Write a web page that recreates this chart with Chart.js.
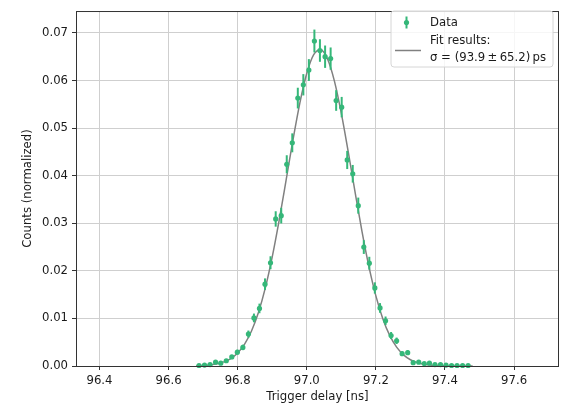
<!DOCTYPE html>
<html>
<head>
<meta charset="utf-8">
<script src="https://cdn.jsdelivr.net/npm/chart.js@4.4.0/dist/chart.umd.min.js"></script>
<style>
  html, body { margin: 0; padding: 0; background: #fff; }
</style>
</head>
<body>
<canvas id="myChart" width="563" height="405"></canvas>
<script>
// binned data (trigger delay in ns, normalized counts, stat. error)
const delay = [
  96.688, 96.704, 96.720, 96.736, 96.751, 96.767, 96.783, 96.799, 96.815, 96.831,
  96.847, 96.863, 96.879, 96.895, 96.910, 96.926, 96.942, 96.958, 96.974, 96.990,
  97.006, 97.022, 97.038, 97.053, 97.069, 97.085, 97.101, 97.117, 97.133, 97.149,
  97.165, 97.181, 97.197, 97.212, 97.228, 97.244, 97.260, 97.276, 97.292, 97.308,
  97.324, 97.340, 97.355, 97.371, 97.387, 97.403, 97.419, 97.435, 97.451, 97.467
];
const counts = [
  0.0001, 0.0002, 0.0003, 0.0008, 0.0006, 0.0011, 0.0019, 0.0029, 0.0039, 0.0067,
  0.0101, 0.0121, 0.0172, 0.0217, 0.0309, 0.0316, 0.0424, 0.0469, 0.0563, 0.0591,
  0.0622, 0.0683, 0.0663, 0.0650, 0.0646, 0.0558, 0.0544, 0.0433, 0.0404, 0.0337,
  0.0250, 0.0216, 0.0164, 0.0122, 0.0095, 0.0064, 0.0053, 0.0026, 0.0028, 0.0007,
  0.0008, 0.0005, 0.0006, 0.0003, 0.0003, 0.0002, 0.0001, 0.0001, 0.0001, 0.0001
];
const countErr = [
  0.00009, 0.00013, 0.00016, 0.00026, 0.00023, 0.00031, 0.00040, 0.00050, 0.00057, 0.00075,
  0.00092, 0.00101, 0.00121, 0.00136, 0.00162, 0.00164, 0.00189, 0.00199, 0.00218, 0.00224,
  0.00229, 0.00240, 0.00237, 0.00235, 0.00234, 0.00217, 0.00215, 0.00191, 0.00185, 0.00169,
  0.00145, 0.00135, 0.00118, 0.00102, 0.00090, 0.00074, 0.00067, 0.00047, 0.00049, 0.00024,
  0.00026, 0.00021, 0.00023, 0.00016, 0.00016, 0.00013, 0.00009, 0.00009, 0.00009, 0.00009
];

// fitted gaussian
const fitX = [
  96.68, 96.70, 96.72, 96.74, 96.76, 96.78, 96.80, 96.82, 96.84, 96.86,
  96.88, 96.90, 96.92, 96.94, 96.96, 96.98, 97.00, 97.02, 97.04, 97.06,
  97.08, 97.10, 97.12, 97.14, 97.16, 97.18, 97.20, 97.22, 97.24, 97.26,
  97.28, 97.30, 97.32, 97.34, 97.36, 97.38, 97.40, 97.42, 97.44, 97.46, 97.48
];
const fitY = [
  0.00005, 0.00011, 0.00022, 0.00045, 0.00086, 0.00157, 0.00275, 0.00461, 0.00736, 0.01125,
  0.01643, 0.02294, 0.03060, 0.03900, 0.04751, 0.05531, 0.06153, 0.06542, 0.06647, 0.06453,
  0.05988, 0.05309, 0.04499, 0.03644, 0.02820, 0.02085, 0.01474, 0.00995, 0.00643, 0.00396,
  0.00234, 0.00131, 0.00071, 0.00036, 0.00018, 0.00008, 0.00004, 0.00002, 0.00001, 0.00000, 0.00000
];

const xTicks = [96.4, 96.6, 96.8, 97.0, 97.2, 97.4, 97.6];
const xTickLabels = ["96.4", "96.6", "96.8", "97.0", "97.2", "97.4", "97.6"];
const yTicks = [0, 0.01, 0.02, 0.03, 0.04, 0.05, 0.06, 0.07];
const yTickLabels = ["0.00", "0.01", "0.02", "0.03", "0.04", "0.05", "0.06", "0.07"];
const legendLabels = ["Data", "Fit results:", "\u03c3 = (93.9\u2009\u00b1\u200965.2)\u2009ps"];

const green = "#35b779";
const grey = "#808080";
const textColor = "#1a1a1a";
const family = "DejaVu Sans";
const fontSize = 11.7;

// vertical error bars, drawn between the fit line and the markers
const errorBars = {
  id: "errorBars",
  beforeDatasetDraw(chart, args) {
    if (args.index !== 0) return;
    const x = chart.scales.x, y = chart.scales.y, ctx = chart.ctx;
    ctx.save();
    ctx.strokeStyle = green;
    ctx.lineWidth = 2;
    delay.forEach((d, i) => {
      const px = x.getPixelForValue(d);
      ctx.beginPath();
      ctx.moveTo(px, y.getPixelForValue(counts[i] - countErr[i]));
      ctx.lineTo(px, y.getPixelForValue(counts[i] + countErr[i]));
      ctx.stroke();
    });
    ctx.restore();
  }
};

// axes frame (all four spines)
const frame = {
  id: "frame",
  afterDatasetsDraw(chart) {
    const a = chart.chartArea, ctx = chart.ctx;
    ctx.save();
    ctx.strokeStyle = "#333";
    ctx.lineWidth = 1;
    ctx.strokeRect(a.left + 0.5, a.top + 0.5, a.right - a.left - 1, a.bottom - a.top);
    ctx.restore();
  }
};

// matplotlib style legend box in the upper right
const legendBox = {
  id: "legendBox",
  afterDraw(chart) {
    const ctx = chart.ctx;
    const bx = 391, by = 11, bw = 162, bh = 56, r = 3;
    ctx.save();
    ctx.beginPath();
    ctx.moveTo(bx + r, by);
    ctx.arcTo(bx + bw, by, bx + bw, by + bh, r);
    ctx.arcTo(bx + bw, by + bh, bx, by + bh, r);
    ctx.arcTo(bx, by + bh, bx, by, r);
    ctx.arcTo(bx, by, bx + bw, by, r);
    ctx.closePath();
    ctx.fillStyle = "rgba(255,255,255,0.8)";
    ctx.fill();
    ctx.strokeStyle = "#d6d6d6";
    ctx.lineWidth = 1;
    ctx.stroke();

    // data handle
    ctx.strokeStyle = green;
    ctx.lineWidth = 2;
    ctx.beginPath();
    ctx.moveTo(406.5, 16.5);
    ctx.lineTo(406.5, 28.5);
    ctx.stroke();
    ctx.fillStyle = green;
    ctx.beginPath();
    ctx.arc(406.5, 22.5, 2.6, 0, Math.PI * 2);
    ctx.fill();

    // fit handle
    ctx.strokeStyle = grey;
    ctx.lineWidth = 1.5;
    ctx.beginPath();
    ctx.moveTo(395, 50.5);
    ctx.lineTo(421, 50.5);
    ctx.stroke();

    ctx.fillStyle = textColor;
    ctx.font = fontSize + "px '" + family + "'";
    ctx.textAlign = "left";
    ctx.textBaseline = "middle";
    ctx.fillText(legendLabels[0], 430, 22.5);
    ctx.fillText(legendLabels[1], 430, 41);
    ctx.fillText(legendLabels[2], 430, 57.5);
    ctx.restore();
  }
};

const ctx = document.getElementById("myChart").getContext("2d");
const chart = new Chart(ctx, {
  type: "scatter",
  data: {
    datasets: [
      {
        label: "Data",
        data: delay.map((d, i) => ({ x: d, y: counts[i] })),
        backgroundColor: green,
        borderColor: green,
        pointRadius: 2.6,
        pointBorderWidth: 0,
        clip: false,
        order: 1
      },
      {
        label: "Fit",
        data: fitX.map((d, i) => ({ x: d, y: fitY[i] })),
        showLine: true,
        borderColor: grey,
        borderWidth: 1.5,
        pointRadius: 0,
        cubicInterpolationMode: "monotone",
        order: 2
      }
    ]
  },
  options: {
    responsive: false,
    devicePixelRatio: 1,
    animation: false,
    layout: { padding: { top: 6, right: 3, left: 0, bottom: 0 } },
    plugins: {
      legend: { display: false },
      tooltip: { enabled: false }
    },
    scales: {
      x: {
        type: "linear",
        min: 96.332,
        max: 97.73,
        afterBuildTicks: (s) => { s.ticks = xTicks.map((v) => ({ value: v })); },
        afterFit: (s) => { s.height = 39; },
        border: { display: false },
        grid: { color: "#cfcfcf", lineWidth: 1, tickColor: "#333", tickLength: 4 },
        ticks: {
          padding: 4,
          maxRotation: 0,
          autoSkip: false,
          color: textColor,
          font: { family: family, size: fontSize },
          callback: (v, i) => xTickLabels[i]
        },
        title: {
          display: true,
          text: "Trigger delay [ns]",
          color: textColor,
          font: { family: family, size: fontSize },
          padding: { top: 0, bottom: 1 }
        }
      },
      y: {
        type: "linear",
        min: 0,
        max: 0.0746,
        afterBuildTicks: (s) => { s.ticks = yTicks.map((v) => ({ value: v })); },
        afterFit: (s) => { s.width = 76; },
        border: { display: false },
        grid: { color: "#cfcfcf", lineWidth: 1, tickColor: "#333", tickLength: 4 },
        ticks: {
          padding: 4,
          autoSkip: false,
          color: textColor,
          font: { family: family, size: fontSize },
          callback: (v, i) => yTickLabels[i]
        },
        title: {
          display: true,
          text: "Counts (normalized)",
          color: textColor,
          font: { family: family, size: fontSize },
          padding: { top: 21, bottom: 0 }
        }
      }
    }
  },
  plugins: [errorBars, frame, legendBox]
});
</script>
</body>
</html>
